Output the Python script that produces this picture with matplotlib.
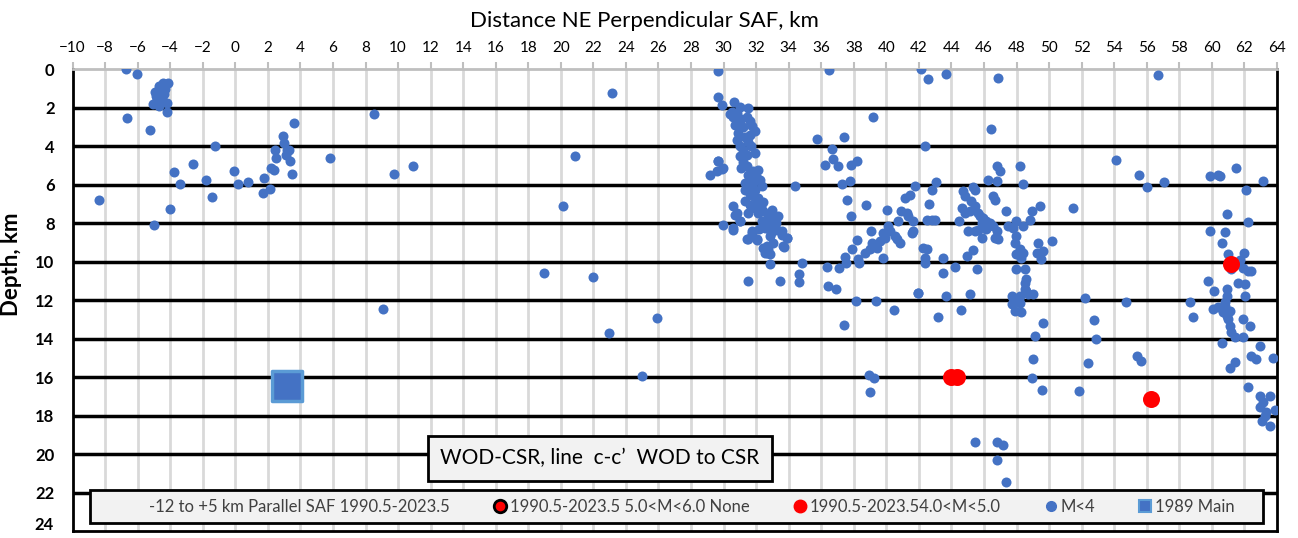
import matplotlib
matplotlib.use("Agg")
import matplotlib.pyplot as plt
from matplotlib.lines import Line2D
from matplotlib.patches import Rectangle

plt.rcParams["font.family"] = ["Lato", "DejaVu Sans"]

# M<4 events, distance NE perpendicular to SAF (km) and depth (km)
west_x = [-6.71, -6.06, -4.11, -4.42, -4.93, -4.67, -4.42, -4.52, -4.83, -5.04, -4.67, -4.21,
          -4.18, -4.6, -4.5, -4.7, -4.4, -4.9, -4.3, -6.65, -5.24, -8.35, -4.97, -4.03, -3.75,
          -3.38, -2.6, -1.78, -1.45, -1.25, -0.06, 0.15, 0.8, 1.78, 1.72, 2.15, 2.19, 2.36, 2.42,
          2.5, 2.93, 3.01, 3.16, 3.11, 3.28, 3.36, 3.46, 3.59, 5.82, 8.5, 9.77, 10.9, 9.07,
          23.14, 20.85, 20.11, 18.96, 21.95, 22.96, 25.92, 24.98]
west_y = [0.0, 0.24, 0.73, 0.73, 1.16, 0.87, 1.07, 1.42, 1.59, 1.8, 1.9, 1.73,
          2.2, 1.2, 1.6, 1.5, 1.3, 1.4, 1.0, 2.52, 3.16, 6.8, 8.08, 7.27, 5.32,
          5.94, 4.94, 5.75, 6.63, 3.99, 5.3, 5.96, 5.86, 5.65, 6.44, 6.2, 5.15, 5.25, 4.18,
          4.61, 3.49, 3.84, 4.18, 4.44, 4.22, 4.79, 5.42, 2.8, 4.61, 2.32, 5.42, 5.05, 12.47,
          1.25, 4.49, 7.12, 10.57, 10.8, 13.73, 12.95, 15.93]

central_x = [29.67, 29.88, 29.67, 30.65, 30.49, 30.8, 31.0, 31.51, 31.41, 31.62, 31.72, 31.92,
             31.62, 31.0, 30.9, 30.8, 31.0, 31.2, 31.41, 31.92, 31.0, 29.67, 29.88, 29.57,
             29.16, 29.98, 31.1, 31.41, 31.82, 32.13, 32.03, 31.62, 31.31, 31.51, 31.92, 32.23,
             32.33, 31.82, 32.13, 31.31, 31.62, 31.92, 31.51, 32.13, 32.43, 32.74, 32.95, 33.35,
             33.05, 32.64, 32.33, 32.54, 32.95, 33.26, 33.56, 33.87, 33.66, 32.84, 33.05, 32.64,
             32.54, 32.84, 32.03, 31.51, 31.72, 31.0, 30.59, 29.94, 30.59, 30.8, 30.55, 31.0,
             30.69, 31.45, 32.03, 31.72, 32.84, 32.64, 32.43, 32.74, 33.72, 33.87, 33.56, 34.79,
             34.63, 34.63, 33.46, 31.51, 34.38, 31.2, 31.3, 31.5, 31.2, 31.5, 31.8, 31.3, 31.6,
             32.0, 32.3, 32.6, 32.9, 33.2, 32.2, 30.4, 30.6, 30.7, 31.1, 31.7, 32.4, 33.0,
             29.67, 36.47, 35.71, 37.37, 36.67, 36.7, 36.2, 37.02, 37.84, 38.2, 37.25, 37.76,
             37.57, 37.8, 38.78, 40.05, 36.33, 36.43, 36.9, 37.08, 37.55, 37.45, 37.86, 38.17,
             38.33, 38.27, 38.68, 38.99, 39.09, 39.03, 39.8, 39.4, 39.6, 39.8, 40.11, 40.21,
             39.9, 40.52, 40.63, 40.83, 37.37, 38.13, 39.34, 40.46, 39.16, 38.95, 39.27, 39.0]
central_y = [1.42, 1.85, 4.79, 1.68, 2.2, 2.28, 1.94, 2.02, 2.46, 2.71, 2.97, 3.23,
             3.4, 2.97, 3.32, 3.66, 4.01, 4.18, 4.44, 4.35, 4.53, 4.79, 5.18, 5.31,
             5.48, 5.13, 5.13, 5.05, 5.3, 5.22, 5.65, 5.74, 5.91, 6.17, 6.25, 5.74,
             6.08, 6.6, 6.69, 6.86, 7.03, 7.2, 7.46, 7.46, 7.38, 7.55, 7.64, 7.64,
             7.9, 7.9, 7.9, 8.24, 8.16, 8.33, 8.41, 8.76, 9.19, 8.67, 9.02, 9.19,
             9.53, 9.62, 8.84, 8.84, 8.5, 7.9, 8.24, 8.1, 7.12, 7.46, 8.33, 7.9,
             7.55, 8.84, 8.88, 8.41, 10.14, 9.53, 9.28, 9.36, 9.22, 8.76, 8.59, 10.05,
             10.66, 11.04, 11.0, 11.0, 6.08, 3.0, 3.5, 3.8, 4.8, 5.5, 5.9, 6.3, 6.5,
             7.0, 7.1, 8.0, 8.5, 8.0, 8.3, 2.3, 2.5, 2.9, 2.6, 4.0, 6.9, 7.3,
             0.07, 0.04, 3.61, 3.52, 4.16, 4.65, 4.96, 5.05, 4.99, 4.75, 5.94, 5.82,
             6.77, 7.6, 7.08, 7.31, 10.26, 11.26, 11.43, 10.35, 10.05, 9.76, 9.36, 8.88,
             10.05, 9.88, 9.53, 9.36, 9.02, 8.41, 9.79, 9.28, 8.93, 8.5, 8.16, 8.41,
             8.76, 8.67, 8.84, 9.02, 13.3, 12.06, 12.07, 12.49, 2.5, 15.89, 16.03, 16.8]

east_x = [42.12, 42.53, 43.67, 46.83, 46.4, 42.36, 40.73, 40.93, 41.24, 41.34, 41.65, 41.55,
          41.65, 41.13, 41.44, 41.75, 43.02, 42.82, 42.63, 42.47, 42.78, 42.98, 42.26, 42.47,
          42.36, 42.36, 43.49, 43.49, 41.95, 43.64, 45.13, 44.48, 44.62, 44.82, 45.13, 45.23,
          45.44, 45.64, 45.74, 45.95, 46.15, 46.36, 46.56, 46.77, 46.67, 46.87, 44.72, 44.82,
          45.33, 45.44, 45.03, 45.44, 45.64, 45.85, 44.93, 45.33, 45.6, 46.27, 46.79, 46.97,
          46.79, 46.56, 46.67, 47.38, 48.2, 48.37, 47.48, 47.99, 47.79, 48.4, 48.82, 48.92,
          49.43, 47.99, 47.89, 48.2, 47.99, 48.4, 48.3, 47.99, 48.51, 48.61, 48.51, 48.71,
          49.02, 47.69, 48.2, 49.33, 49.64, 49.53, 50.15, 49.23, 41.93, 43.15, 44.6, 45.42,
          46.77, 47.14, 46.77, 47.38, 48.94, 49.0, 49.16, 49.61, 49.59, 47.79, 48.2, 47.9,
          48.3, 48.51, 48.61, 47.69, 46.1, 45.9, 44.2]
east_y = [0.0, 0.5, 0.24, 0.47, 3.11, 4.01, 7.9, 7.38, 7.46, 7.64, 7.9, 8.5,
          8.41, 6.68, 6.51, 6.08, 5.86, 6.25, 6.98, 7.81, 7.81, 7.84, 9.28, 9.36,
          9.79, 10.05, 9.83, 10.57, 11.61, 11.81, 11.69, 7.9, 7.2, 7.46, 7.38, 6.86,
          7.12, 7.46, 7.64, 7.72, 7.9, 7.98, 8.16, 8.41, 8.76, 8.84, 6.34, 6.6,
          6.11, 6.25, 8.41, 8.41, 8.33, 8.76, 9.71, 9.4, 10.4, 5.74, 5.05, 5.31,
          5.82, 6.6, 6.77, 7.38, 5.05, 5.94, 8.16, 7.9, 8.24, 8.16, 7.84, 7.34,
          7.12, 8.67, 9.02, 9.36, 9.62, 9.53, 9.79, 10.4, 10.4, 10.92, 11.43, 11.69,
          11.69, 11.78, 11.78, 9.02, 9.45, 9.88, 8.93, 9.53, 11.63, 12.89, 12.5, 19.38,
          19.38, 19.52, 20.3, 21.45, 16.05, 15.08, 13.84, 13.18, 16.69, 11.87, 12.13, 12.56,
          12.64, 11.09, 11.52, 12.21, 8.3, 8.0, 10.3]

far_x = [56.7, 54.1, 55.51, 56.0, 57.03, 51.46, 59.87, 60.38, 60.48, 61.5, 63.14, 62.1,
         60.9, 62.25, 59.87, 60.83, 60.65, 60.98, 61.96, 61.71, 61.2, 61.92, 62.22, 62.43,
         59.77, 61.61, 62.02, 60.14, 60.9, 60.9, 62.06, 52.21, 54.73, 58.66, 58.81, 52.75,
         52.87, 52.4, 51.84, 55.43, 55.63, 60.07, 60.38, 60.69, 60.9, 61.1, 60.79, 61.1,
         61.2, 61.4, 61.92, 62.33, 61.92, 60.65, 62.94, 62.43, 62.7, 63.76, 61.4, 61.1,
         62.19, 62.94, 63.56, 63.14, 62.94, 63.86, 63.35, 63.05, 63.56, 63.25, 61.0, 60.8]
far_y = [0.3, 4.7, 5.48, 6.13, 5.86, 7.22, 5.56, 5.48, 5.53, 5.15, 5.82, 6.25,
         7.53, 7.93, 8.39, 8.48, 9.02, 9.62, 9.53, 9.92, 10.4, 10.31, 10.49, 10.49,
         11.0, 11.09, 11.14, 11.52, 11.43, 11.78, 11.81, 11.88, 12.12, 12.12, 12.87, 13.02,
         14.03, 15.27, 16.7, 14.92, 15.18, 12.47, 12.38, 12.64, 12.82, 12.56, 12.12, 13.34,
         13.68, 13.89, 12.99, 13.34, 13.94, 14.25, 14.4, 14.92, 15.06, 15.01, 15.23, 15.53,
         16.51, 16.96, 16.96, 17.31, 17.56, 17.7, 17.82, 18.26, 18.52, 18.0, 13.0, 12.3]

m4_x = west_x + central_x + east_x + far_x
m4_y = west_y + central_y + east_y + far_y

# 4.0<M<5.0 events
red_x = [43.95, 44.35, 56.25, 61.16]
red_y = [15.97, 15.97, 17.13, 10.14]

# 1989 main shock
main_x = [3.2]
main_y = [16.45]

x_ticks = list(range(-10, 65, 2))
y_ticks = list(range(0, 25, 2))

blue = "#4472C4"

fig = plt.figure(figsize=(12.98, 5.38), dpi=100)
ax = fig.add_axes([0.0559, 0.013, 0.9279, 0.8582])

ax.scatter(m4_x, m4_y, s=52, color=blue, linewidths=0, zorder=3)
ax.scatter(red_x, red_y, s=150, color="#FF0000", linewidths=0, zorder=4)
ax.scatter(main_x, main_y, s=480, marker="s", color=blue, edgecolors="#5B9BD5",
           linewidths=2.5, zorder=4)

ax.set_xlim(-10, 64)
ax.set_ylim(24, 0)
ax.set_xticks(x_ticks)
ax.set_yticks(y_ticks)
ax.set_yticklabels([str(v) for v in y_ticks[:-1]] + [""])
ax.xaxis.tick_top()
ax.xaxis.set_label_position("top")
ax.tick_params(axis="x", length=5, width=1.5, color="#BFBFBF", labelsize=11, pad=5.5)
ax.tick_params(axis="y", length=0, labelsize=12, pad=13)
for lab in ax.get_yticklabels():
    lab.set_fontweight("bold")
# last depth label nudged up so it stays inside the figure
ax.text(-0.0158, 23.7, str(y_ticks[-1]), transform=ax.get_yaxis_transform(),
        ha="right", va="center", fontsize=12, fontweight="bold")

# grid: light vertical lines, heavy horizontal lines
for xv in x_ticks[1:-1]:
    ax.axvline(xv, color="#D9D9D9", lw=2, zorder=1)
for yv in y_ticks[1:-1]:
    ax.axhline(yv, color="black", lw=2.5, zorder=1)

for side in ["left", "right", "bottom"]:
    ax.spines[side].set_color("black")
    ax.spines[side].set_linewidth(2)
ax.spines["top"].set_color("#BFBFBF")
ax.spines["top"].set_linewidth(2)

ax.set_xlabel("Distance NE Perpendicular SAF, km", fontsize=16)
ax.xaxis.set_label_coords(0.4745, 1.092)
ax.set_ylabel("Depth, km", fontsize=16, fontweight="bold")
ax.yaxis.set_label_coords(-0.042, 0.578)

ax.text(0.438, 0.157, "WOD-CSR, line  c-c\u2019  WOD to CSR", fontsize=15,
        transform=ax.transAxes, ha="center", va="center", zorder=6,
        bbox=dict(boxstyle="square,pad=0.6", facecolor="#F2F2F2",
                  edgecolor="black", linewidth=2))

# legend frame drawn as its own box, legend entries laid on top
ax.add_patch(Rectangle((0.0145, 0.0173), 0.9741, 0.0715, transform=ax.transAxes,
                       facecolor="#F2F2F2", edgecolor="black", linewidth=2,
                       zorder=6, clip_on=False))

handles = [
    Line2D([], [], linestyle="none", marker=None),
    Line2D([], [], linestyle="none", marker="o", markersize=9,
           markerfacecolor="#FF0000", markeredgecolor="black", markeredgewidth=2),
    Line2D([], [], linestyle="none", marker="o", markersize=9,
           markerfacecolor="#FF0000", markeredgecolor="#FF0000"),
    Line2D([], [], linestyle="none", marker="o", markersize=7,
           markerfacecolor=blue, markeredgecolor=blue),
    Line2D([], [], linestyle="none", marker="s", markersize=9,
           markerfacecolor=blue, markeredgecolor="#5B9BD5", markeredgewidth=1.5),
]
labels = ["-12 to +5 km Parallel SAF 1990.5-2023.5",
          "1990.5-2023.5 5.0<M<6.0 None",
          "1990.5-2023.54.0<M<5.0",
          "M<4",
          "1989 Main"]
leg = ax.legend(handles, labels, ncol=5, loc="center",
                bbox_to_anchor=(0.5075, 0.053), fontsize=12, frameon=False,
                handlelength=0.8, handletextpad=0.2, columnspacing=2.6,
                borderaxespad=0, borderpad=0, labelcolor="#404040")
leg.set_zorder(7)

fig.savefig("out.png", dpi=100)
